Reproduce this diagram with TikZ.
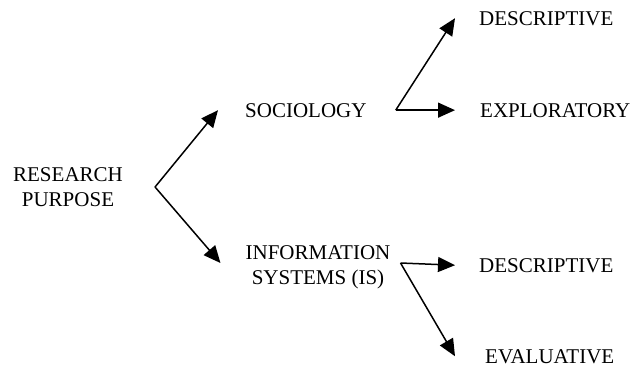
\documentclass[tikz,border=0pt]{standalone}
\usepackage{fontspec}
\setmainfont{Liberation Serif}
\usetikzlibrary{positioning,arrows.meta}

\begin{document}
\begin{tikzpicture}[x=1pt,y=1pt]

  \tikzstyle{term} = [inner sep=0pt, font=\fontsize{21}{25}\selectfont]
  \tikzstyle{twoline} = [term, align=center]
  \tikzstyle{link} = [-{Triangle[length=17pt,width=15pt]}, color=black!100, line width=1.5pt]

  \useasboundingbox (0,0) rectangle (635,-368);

  % topic and the two fields
  \node[twoline] (purpose) at (68,-187) {RESEARCH\\PURPOSE};
  \node[term, anchor=base west] (soc) at (245,-117) {SOCIOLOGY};
  \node[twoline] (infsys) at (318,-267) {INFORMATION\\SYSTEMS (IS)};

  % kinds of purpose
  \node[term, anchor=base west] (socdesc) at (479,-25) {DESCRIPTIVE};
  \node[term, anchor=base west] (socexpl) at (480,-117) {EXPLORATORY};
  \node[term, anchor=base west] (isdesc) at (479,-272) {DESCRIPTIVE};
  \node[term, anchor=base west] (iseval) at (485,-363) {EVALUATIVE};

  % fork points
  \coordinate[right=32pt of purpose] (purposefork);
  \coordinate[right=29pt of soc] (socfork);
  \coordinate[right=10pt of infsys, yshift=4pt] (infsysfork);

  \draw[link] (purposefork) -- ([xshift=-27pt]soc.west);
  \draw[link] (purposefork) -- ([xshift=-25pt,yshift=4pt]infsys.west);
  \draw[link] (socfork) -- ([xshift=-24pt]socdesc.west);
  \draw[link] (socfork) -- ([xshift=-25pt]socexpl.west);
  \draw[link] (infsysfork) -- ([xshift=-24pt]isdesc.west);
  \draw[link] (infsysfork) -- ([xshift=-30pt]iseval.west);

\end{tikzpicture}
\end{document}
